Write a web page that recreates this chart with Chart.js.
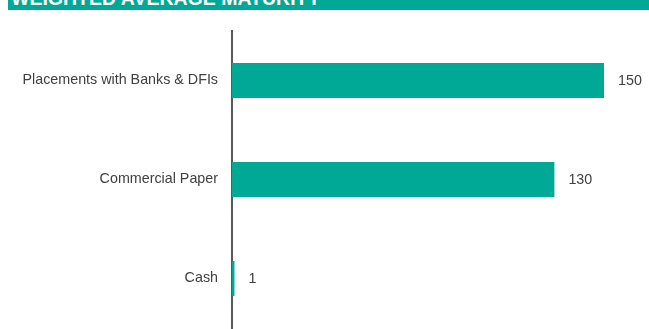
<!DOCTYPE html>
<html>
<head>
<meta charset="utf-8">
<script src="https://cdn.jsdelivr.net/npm/chart.js@4/dist/chart.umd.min.js"></script>
<style>
  html, body { margin: 0; padding: 0; background: #fff; }
  #wrap { position: relative; width: 649px; height: 329px; overflow: hidden; }
  #banner {
    position: absolute; left: 8px; top: 0; width: 641px; height: 10px;
    background: #00A896; overflow: hidden;
  }
  #banner span {
    position: absolute; left: 3px; top: -12px;
    font: bold 19.5px Arial, "Liberation Sans", sans-serif; color: #fff;
    white-space: nowrap; line-height: 20px;
  }
  canvas { position: absolute; left: 0; top: 0; }
</style>
</head>
<body>
<div id="wrap">
  <canvas id="c" width="649" height="329"></canvas>
  <div id="banner"><span>WEIGHTED AVERAGE MATURITY</span></div>
</div>
<script>
const categories = ["Placements with Banks & DFIs", "Commercial Paper", "Cash"]
const maturityDays = [150, 130, 1]

const BAR_COLOR = "#00A896"
const TEXT_COLOR = "#404040"
const AXIS_COLOR = "#595959"
const FONT_FAMILY = "Arial, 'Liberation Sans', sans-serif"
const FONT_SIZE = 14.3

// Value labels just past the end of each bar
const valueLabels = {
  id: "valueLabels",
  afterDatasetsDraw(chart) {
    const { ctx } = chart
    const meta = chart.getDatasetMeta(0)
    ctx.save()
    ctx.font = FONT_SIZE + "px " + FONT_FAMILY
    ctx.fillStyle = TEXT_COLOR
    ctx.textAlign = "left"
    ctx.textBaseline = "middle"
    meta.data.forEach((bar, i) => {
      ctx.fillText(String(maturityDays[i]), bar.x + 14, bar.y + 1)
    })
    ctx.restore()
  }
}

new Chart(document.getElementById("c").getContext("2d"), {
  type: "bar",
  plugins: [valueLabels],
  data: {
    labels: categories,
    datasets: [{
      data: maturityDays,
      backgroundColor: BAR_COLOR,
      borderWidth: 0,
      categoryPercentage: 1,
      barPercentage: 0.353
    }]
  },
  options: {
    indexAxis: "y",
    responsive: false,
    animation: false,
    layout: { padding: { top: 31, right: 45, bottom: 1, left: 0 } },
    plugins: { legend: { display: false }, tooltip: { enabled: false } },
    scales: {
      x: { display: false, min: 0, max: 150 },
      y: {
        // fixed axis width; drop the label padding Chart.js adds above/below
        afterFit: (axis) => {
          axis.width = 232
          axis.paddingTop = 0
          axis.paddingBottom = 0
        },
        grid: { display: false, drawTicks: false },
        border: { display: true, color: AXIS_COLOR, width: 2 },
        ticks: {
          padding: 14,
          color: TEXT_COLOR,
          font: { family: FONT_FAMILY, size: FONT_SIZE }
        }
      }
    }
  }
})
</script>
</body>
</html>
